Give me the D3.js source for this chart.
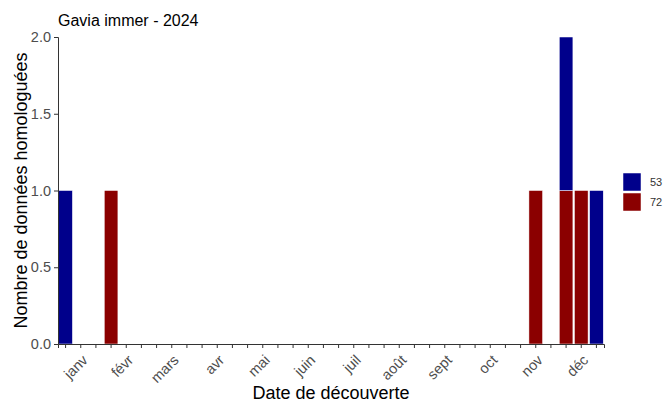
<!DOCTYPE html>
<html>
<head>
<meta charset="utf-8">
<script src="https://cdn.jsdelivr.net/npm/d3@7"></script>
<style>
  body { margin: 0; background: #fff; }
  svg { font-family: "Liberation Sans", Arial, sans-serif; }
</style>
</head>
<body>
<svg id="chart" width="664" height="403"></svg>
<script>
// months on the axis, each split in three decades (10-day periods)
var months = ["janv", "févr", "mars", "avr", "mai", "juin", "juil", "août", "sept", "oct", "nov", "déc"];
var decades = [];
months.forEach(function(m) { decades.push(m + " 1", m + " 2", m + " 3"); });

// counts per decade for each group (legend keys)
var groups = ["53", "72"];
var counts53 = [1,0,0, 0,0,0, 0,0,0, 0,0,0, 0,0,0, 0,0,0, 0,0,0, 0,0,0, 0,0,0, 0,0,0, 0,0,0, 1,0,1];
var counts72 = [0,0,0, 1,0,0, 0,0,0, 0,0,0, 0,0,0, 0,0,0, 0,0,0, 0,0,0, 0,0,0, 0,0,0, 0,1,0, 1,1,0];
var yTicks = [0, 0.5, 1, 1.5, 2];
var colors = {"53": "#00008B", "72": "#8B0000"};

var margin = {top: 37, right: 60, bottom: 59, left: 58},
    width = 604 - margin.left,
    height = 344 - margin.top;

var svg = d3.select("#chart");

var rows = decades.map(function(d, i) {
  return {decade: d, "53": counts53[i], "72": counts72[i]};
});

// ggplot stacks the first level on top, so 72 goes at the bottom
var stacked = d3.stack().keys(["72", "53"])(rows);

var x = d3.scaleBand().domain(decades).range([margin.left, margin.left + width]).padding(0);
var y = d3.scaleLinear().domain([0, 2]).range([margin.top + height, margin.top]);

var bw = x.bandwidth();

svg.append("g")
  .selectAll("g")
  .data(stacked)
  .enter().append("g")
  .attr("fill", function(d) { return colors[d.key]; })
  .selectAll("rect")
  .data(function(d) { return d.filter(function(p) { return p[1] > p[0]; }); })
  .enter().append("rect")
  .attr("x", function(d) { return x(d.data.decade) + bw * 0.05; })
  .attr("width", bw * 0.9)
  .attr("y", function(d) { return y(d[1]); })
  .attr("height", function(d) { return y(d[0]) - y(d[1]); })
  .attr("stroke", "#fff")
  .attr("stroke-width", 0.5);

// y axis
var yAxis = svg.append("g")
  .attr("transform", "translate(" + margin.left + ",0)")
  .call(d3.axisLeft(y).tickValues(yTicks).tickFormat(d3.format(".1f")).tickSize(4).tickPadding(3));
yAxis.select(".domain").attr("stroke", "#333").attr("stroke-width", 1);
yAxis.selectAll(".tick line").attr("stroke", "#333");
yAxis.selectAll("text").attr("fill", "#4d4d4d").style("font-size", "14.5px");

// x axis: a tick for every decade, month label at the middle one
var xAxis = svg.append("g")
  .attr("transform", "translate(0," + (margin.top + height) + ")")
  .call(d3.axisBottom(x).tickSize(4).tickFormat(""));
xAxis.select(".domain").attr("stroke", "#333").attr("stroke-width", 1);
xAxis.selectAll(".tick line").attr("stroke", "#333");

svg.append("g")
  .selectAll("text")
  .data(months)
  .enter().append("text")
  .attr("transform", function(m) {
    var cx = x(m + " 2") + bw / 2;
    return "translate(" + (cx + 8) + "," + (margin.top + height + 17) + ") rotate(-45)";
  })
  .attr("text-anchor", "end")
  .attr("fill", "#4d4d4d")
  .style("font-size", "14.5px")
  .text(function(m) { return m; });

// titles
svg.append("text")
  .attr("x", 58).attr("y", 26)
  .style("font-size", "16px")
  .text("Gavia immer - 2024");

svg.append("text")
  .attr("x", margin.left + width / 2).attr("y", 399)
  .attr("text-anchor", "middle")
  .style("font-size", "18px")
  .text("Date de découverte");

svg.append("text")
  .attr("transform", "translate(27," + (margin.top + height / 2) + ") rotate(-90)")
  .attr("text-anchor", "middle")
  .style("font-size", "18px")
  .text("Nombre de données homologuées");

// legend
var legend = svg.append("g").attr("transform", "translate(623,173)");
groups.forEach(function(g, i) {
  legend.append("rect")
    .attr("x", 0).attr("y", i * 20)
    .attr("width", 18).attr("height", 18)
    .attr("fill", colors[g])
    .attr("stroke", "#fff").attr("stroke-width", 0.5);
  legend.append("text")
    .attr("x", 27).attr("y", i * 20 + 13)
    .style("font-size", "11px")
    .attr("fill", "#333")
    .text(g);
});
</script>
</body>
</html>
